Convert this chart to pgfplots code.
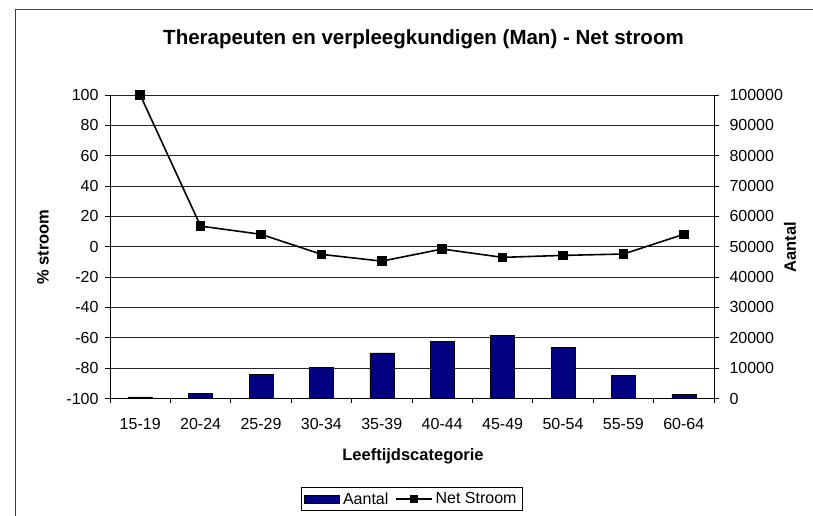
\documentclass[border=0pt]{standalone}
\usepackage{fontspec}
\setmainfont{Liberation Sans}
\usepackage{pgfplots}
\pgfplotsset{compat=1.18}
\definecolor{barblue}{RGB}{0,0,128}
\newcommand{\tickfont}{\fontsize{16}{19}\selectfont}
\pgfplotsset{
  mybarleg/.style={legend image code/.code={\draw[##1] (0pt,-4pt) rectangle (35pt,4pt);}},
  mylineleg/.style={legend image code/.code={\draw[mark repeat=2,mark phase=2,##1,line width=1.2pt, mark size=3pt] plot coordinates {(0pt,0pt) (18pt,0pt) (36pt,0pt)};}},
}
\begin{document}
\begin{tikzpicture}[x=1pt,y=1pt]
\useasboundingbox (0,0) rectangle (813,516);
\draw[black!75, line width=1pt] (15,0) -- (15,506) -- (813,506);
\node[font=\fontsize{20.5}{24}\selectfont\bfseries] at (423.5,477) {Therapeuten en verpleegkundigen (Man) - Net stroom};
\node[font=\fontsize{16.5}{20}\selectfont\bfseries, rotate=90] at (43,269) {\% stroom};
\node[font=\fontsize{16.5}{20}\selectfont\bfseries, rotate=90] at (790,269) {Aantal};
\node[font=\fontsize{16.5}{20}\selectfont\bfseries] at (413,60) {Leeftijdscategorie};
\begin{axis}[
  at={(110pt,117.5pt)}, anchor=south west, scale only axis,
  width=604pt, height=303.5pt,
  xmin=-0.5, xmax=9.5, ymin=0, ymax=100000,
  axis x line*=bottom, axis y line*=right,
  axis line style={black, line width=0.8pt},
  tick align=outside,
  major tick length=5pt, minor tick length=5pt,
  tick style={black, line width=0.8pt},
  xtick={0,...,9},
  xticklabels={15-19,20-24,25-29,30-34,35-39,40-44,45-49,50-54,55-59,60-64},
  major x tick style={draw=none},
  minor xtick={-0.5,0.5,...,9.5},
  ytick distance=10000,
  scaled y ticks=false,
  /pgf/number format/.cd, fixed, 1000 sep={}, assume math mode=true,
  /pgfplots/.cd,
  tick label style={font=\tickfont},
  xticklabel style={yshift=-11pt},
  yticklabel style={xshift=7pt},
  ymajorgrids,
  grid style={black!85, line width=0.7pt},
]
\addplot[ybar, bar width=24pt, fill=barblue, draw=black, line width=0.6pt]
  coordinates {(0,500) (1,1750) (2,7900) (3,10300) (4,15000) (5,18800) (6,20900) (7,16900) (8,7600) (9,1300)};
\end{axis}
\begin{axis}[
  at={(110pt,117.5pt)}, anchor=south west, scale only axis,
  width=604pt, height=303.5pt,
  xmin=-0.5, xmax=9.5, ymin=-100, ymax=100,
  axis x line=none, axis y line*=left,
  axis line style={black, line width=0.8pt},
  tick align=outside,
  major tick length=5pt,
  tick style={black, line width=0.8pt},
  ytick distance=20,
  /pgf/number format/assume math mode=true,
  tick label style={font=\tickfont},
  yticklabel style={xshift=-3pt},
  clip=false,
  legend columns=2,
  legend style={at={(0.5,-0.331)}, anchor=center, draw=black, line width=0.7pt,
    font=\tickfont, inner xsep=3pt, inner ysep=3pt,
    nodes={inner xsep=3pt, inner ysep=2pt},
    /tikz/every even column/.append style={column sep=4pt}},
]
\addlegendimage{mybarleg, black, line width=0.6pt, fill=barblue}
\addlegendentry{Aantal}
\addplot[mylineleg, black, line width=1.6pt, mark=square*, mark size=4pt, mark options={solid}]
  coordinates {(0,100) (1,13.6) (2,8.2) (3,-5) (4,-9.5) (5,-1.5) (6,-7) (7,-5.7) (8,-4.8) (9,8.2)};
\addlegendentry{Net Stroom}
\end{axis}
\end{tikzpicture}
\end{document}
